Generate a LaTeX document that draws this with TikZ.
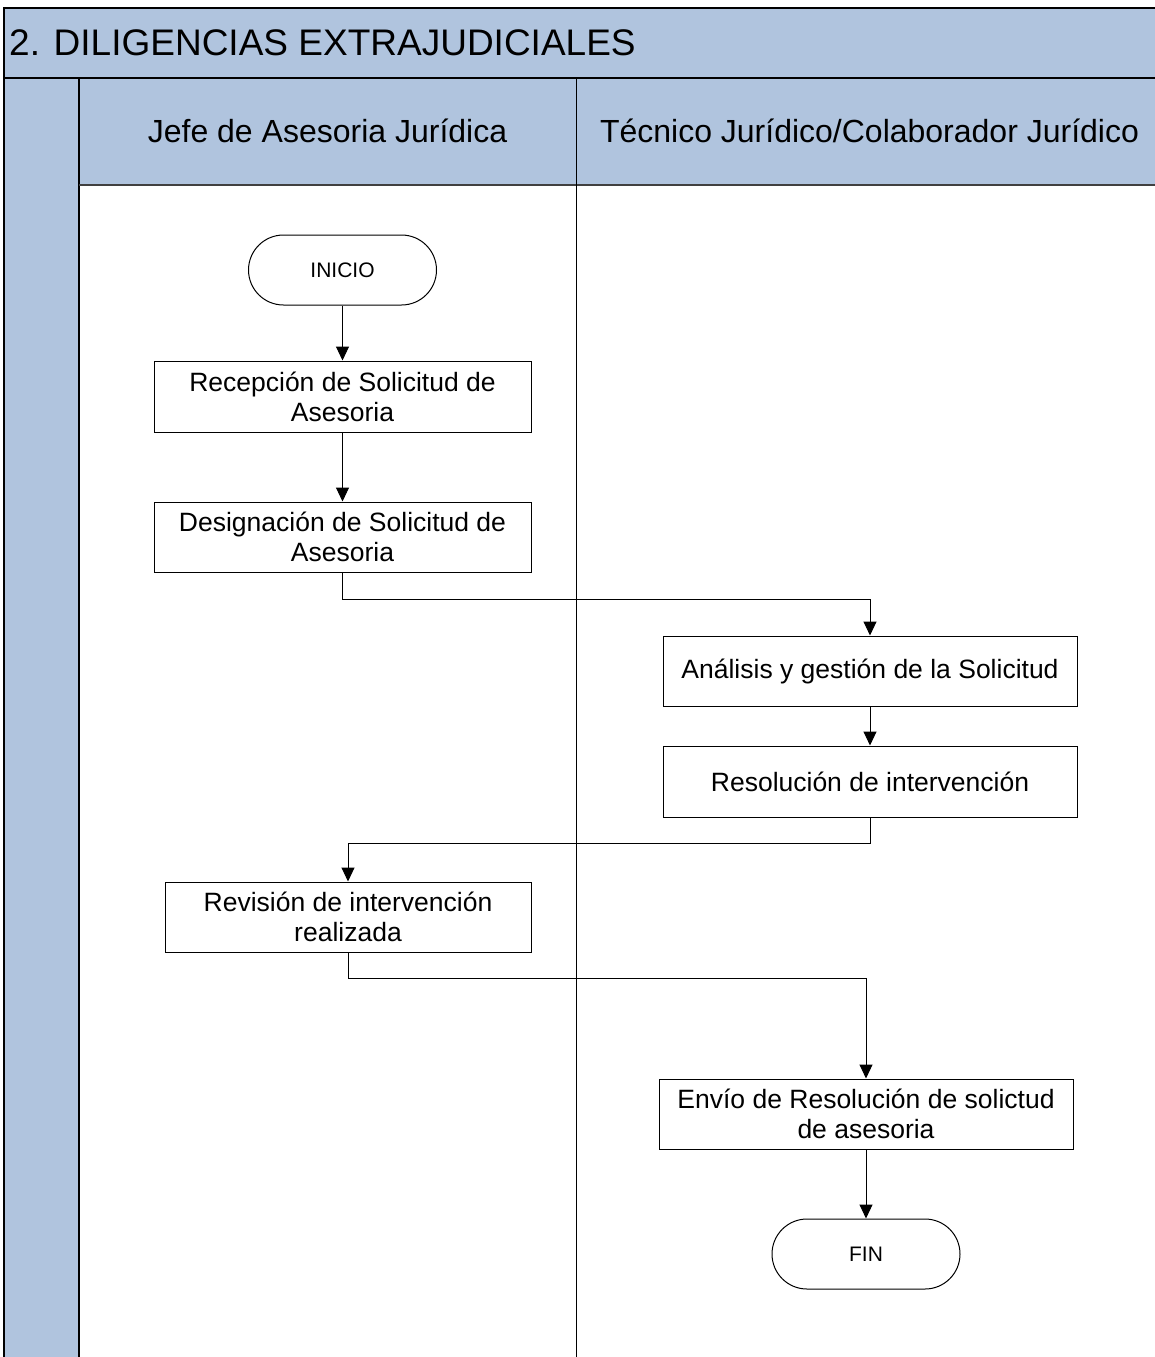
\documentclass[tikz,border=0pt]{standalone}
\usepackage{fontspec}
\setmainfont{Liberation Sans}
\usetikzlibrary{arrows.meta}
\definecolor{lanefill}{RGB}{176,196,222}
\begin{document}
\begin{tikzpicture}[x=1pt,y=-1pt,
  frame/.style={draw=black,line width=1.6pt},
  thinline/.style={draw=black,line width=1pt},
  proc/.style={draw=black,line width=1pt,fill=white,rectangle,align=center,
    inner sep=0pt,font=\fontsize{26.5}{30}\selectfont},
  term/.style={draw=black,line width=1pt,fill=white,rectangle,
    rounded corners=35pt,minimum width=188pt,minimum height=70pt,
    inner sep=0pt,font=\fontsize{21}{25}\selectfont},
  arr/.style={draw=black,line width=1pt,-{Triangle[width=13pt,length=14pt]}},
  lanetitle/.style={font=\fontsize{32}{38}\selectfont,inner sep=0pt}
]
\useasboundingbox (0,0) rectangle (1154,1357);
% pool and lane bands
\fill[white] (0,0) rectangle (1154,1357);
\fill[lanefill] (4,8) rectangle (1170,78);
\fill[lanefill] (4,78) rectangle (79,1370);
\fill[lanefill] (79,78) rectangle (1170,185);
% borders
\draw[frame] (4,1370) -- (4,8) -- (1170,8);
\draw[frame] (4,78) -- (1170,78);
\draw[frame] (79,78) -- (79,1370);
\draw[line width=1.2pt,draw=black!75] (79,185) -- (1170,185);
\draw[thinline] (576,78) -- (576,1370);
% titles
\node[anchor=base west,inner sep=0pt,font=\fontsize{37}{44}\selectfont] (pool) at (9,55) {2. DILIGENCIAS EXTRAJUDICIALES};
\node[lanetitle,anchor=base] (lane1) at (327.5,142) {Jefe de Asesoria Jurídica};
\node[lanetitle,anchor=base] (lane2) at (869.5,142) {Técnico Jurídico/Colaborador Jurídico};
% flow
\node[term] (start) at (342.5,270) {INICIO};
\node[proc,minimum width=377pt,minimum height=71pt] (b1) at (342.5,396.5) {Recepción de Solicitud de\\Asesoria};
\node[proc,minimum width=377pt,minimum height=70pt] (b2) at (342.5,537) {Designación de Solicitud de\\Asesoria};
\node[proc,minimum width=414pt,minimum height=70pt] (b3) at (870,671) {Análisis y gestión de la Solicitud};
\node[proc,minimum width=414pt,minimum height=71pt] (b4) at (870,781.5) {Resolución de intervención};
\node[proc,minimum width=366pt,minimum height=70pt] (b5) at (348,917) {Revisión de intervención\\realizada};
\node[proc,minimum width=414pt,minimum height=70pt] (b6) at (866,1114) {Envío de Resolución de solictud\\de asesoria};
\node[term] (fin) at (866,1254) {FIN};
\draw[arr] (start) -- (b1);
\draw[arr] (b1) -- (b2);
\draw[arr] (b2.south) -- ++(0,27) -| (b3.north);
\draw[arr] (b3) -- (b4);
\draw[arr] (b4.south) -- ++(0,26) -| (b5.north);
\draw[arr] (b5.south) -- ++(0,26) -| (b6.north);
\draw[arr] (b6) -- (fin);
\end{tikzpicture}
\end{document}
